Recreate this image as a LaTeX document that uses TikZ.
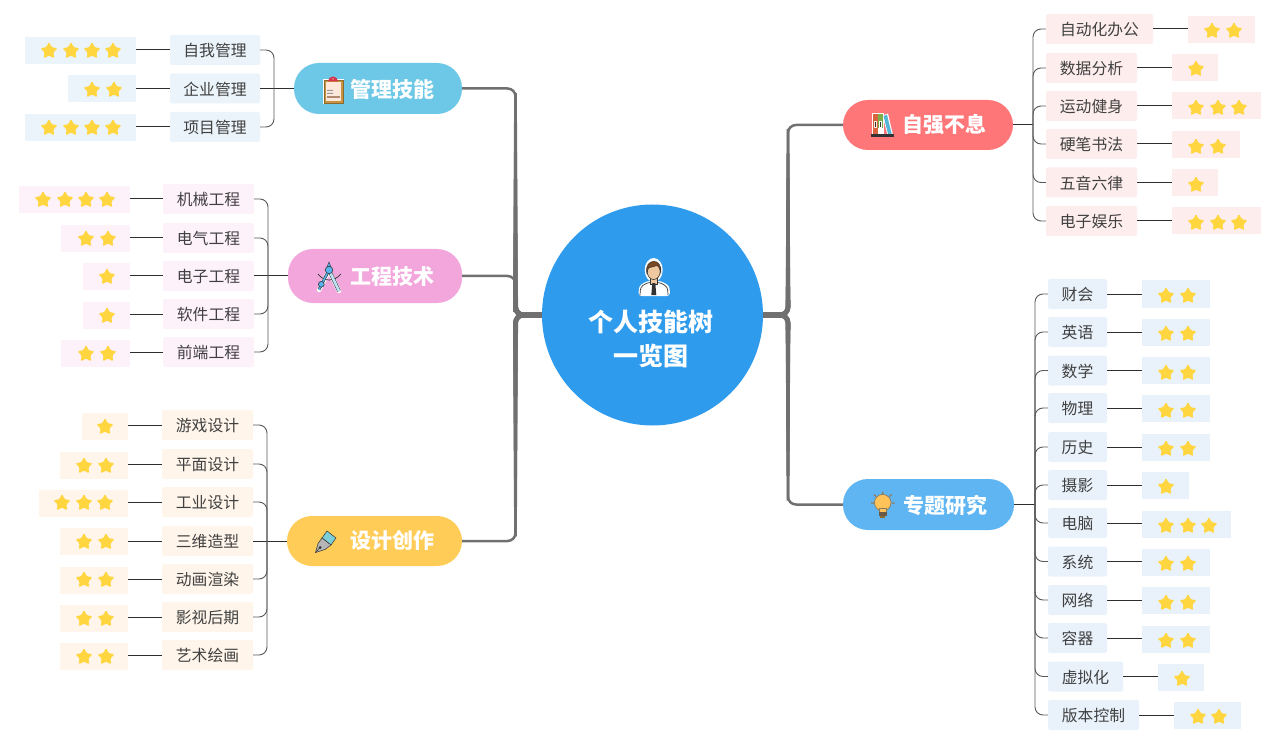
\documentclass[tikz,border=0pt]{standalone}
\usepackage{fontspec}
\setmainfont{Noto Sans CJK SC}
\usetikzlibrary{shapes.geometric,calc}
\definecolor{rootc}{HTML}{2F9BED}
\definecolor{trunkc}{HTML}{707070}
\definecolor{linec}{HTML}{2E2E2E}
\definecolor{textc}{HTML}{404040}
\definecolor{starc}{HTML}{FFD63F}
\definecolor{pa}{HTML}{6CC8E6}\definecolor{la}{HTML}{EBF4FA}
\definecolor{pb}{HTML}{F2A6DC}\definecolor{lb}{HTML}{FDF1FA}
\definecolor{pc}{HTML}{FFCC57}\definecolor{lc}{HTML}{FFF5EA}
\definecolor{pd}{HTML}{FF7678}\definecolor{ld}{HTML}{FEEDED}
\definecolor{pe}{HTML}{5FB5F2}\definecolor{le}{HTML}{E9F2FB}
\definecolor{idark}{HTML}{333333}
\definecolor{ibrown}{HTML}{C9923F}
\definecolor{ibrownd}{HTML}{8A6A30}
\definecolor{ipeach}{HTML}{FEE8DC}
\definecolor{ired}{HTML}{D6344A}
\definecolor{igrey}{HTML}{999999}
\definecolor{itan}{HTML}{B08A70}
\definecolor{iblue}{HTML}{5AB4F0}
\definecolor{ipale}{HTML}{BFE3F5}
\definecolor{iteal}{HTML}{7CCFD8}
\definecolor{isilver}{HTML}{B5B5B5}
\definecolor{iorange}{HTML}{D9653F}
\definecolor{igreen}{HTML}{7FAF4A}
\definecolor{isky}{HTML}{55B6D6}
\definecolor{iyellow}{HTML}{FFC35A}
\definecolor{ibase}{HTML}{6A5A48}
\definecolor{iray}{HTML}{8D7B5F}
\definecolor{iskin}{HTML}{F0C8A0}
\definecolor{ihair}{HTML}{7B4A22}
\tikzset{
  leafbox/.style={rounded corners=2pt,inner sep=0pt,minimum height=30pt,text=textc,text height=15pt,text depth=1.2pt,font=\fontsize{15.8}{18}\selectfont},
  ratebox/.style={inner sep=0pt,minimum height=27pt},
  starmark/.style={star,star points=5,star point ratio=1.95,minimum size=18pt,inner sep=0pt,fill=starc,rounded corners=1.2pt},
  pillbox/.style={rounded corners=25pt,inner sep=0pt},
  pilltext/.style={text=white,inner sep=0pt,font=\bfseries\fontsize{21}{24}\selectfont},
  trunkline/.style={draw=trunkc,rounded corners=8pt},
  thinline/.style={draw=linec,line width=1pt},
  branchline/.style={draw=linec!80!white,line width=.9pt,rounded corners=8pt}
}
\newcommand\pillnode[6]{% name x0 x1 yc height color
  \pgfmathsetmacro\cxx{(#2+#3)/2}\pgfmathsetmacro\wxx{#3-#2}
  \node[pillbox,fill=#6,minimum width=\wxx pt,minimum height=#5pt] (#1) at (\cxx,#4) {};}
\newcommand\leafnode[6]{% name x0 x1 yc text fill
  \pgfmathsetmacro\cxx{(#2+#3)/2}\pgfmathsetmacro\wxx{#3-#2}
  \node[leafbox,fill=#6,minimum width=\wxx pt] (#1) at (\cxx,#4) {#5};}
\newcommand\rate[7]{% name x0 x1 yc fill star-y star-list
  \pgfmathsetmacro\cxx{(#2+#3)/2}\pgfmathsetmacro\wxx{#3-#2}
  \node[ratebox,fill=#5,minimum width=\wxx pt] (#1r) at (\cxx,#4) {};
  \foreach \sx in {#7}{\node[starmark] (#1s\sx) at (\sx,#6) {};}}
\newcommand\linkL[1]{\draw[thinline] (#1.west) -- (#1.west -| #1r.east);}
\newcommand\linkR[1]{\draw[thinline] (#1.east) -- (#1.east -| #1r.west);}
\newcommand\brL[3]{\draw[branchline] (#3 |- #1.west) -- (#3 |- #2.east) -- (#2.east);}
\newcommand\brR[3]{\draw[branchline] (#3 |- #1.east) -- (#3 |- #2.west) -- (#2.west);}
\newcommand\trunk[3]{% root anchor, pill anchor, vertical x
  \draw[trunkline,line width=2.5pt] (#1) -- (#3 |- #1) -- (#3 |- #2) -- (#2);
  \foreach \ff/\ww in {.98/2.8,.85/3.05,.72/3.3,.6/3.55,.48/3.8,.36/4.1,.25/4.4,.15/4.7,.08/5}{
    \draw[trunkline,line width=\ww pt] (#1) -- (#3 |- #1) -- ($(#3 |- #1)!\ff!(#3 |- #2)$);}
  \draw[draw=trunkc,line width=6pt] (#1) -- ($(#1)!.75!(#3 |- #1)$);}
\begin{document}
\begin{tikzpicture}[x=1pt,y=-1pt]
\useasboundingbox (0,0) rectangle (1287,743);
\coordinate (vl) at (515.5,0);
\coordinate (vr) at (788,0);
\coordinate (ba) at (274,0);
\coordinate (bb) at (268,0);
\coordinate (bc) at (267,0);
\coordinate (bd) at (1033,0);
\coordinate (be) at (1035,0);
% root
\node[circle,fill=rootc,inner sep=0pt,minimum size=221pt] (root) at (652.5,315) {};
\node[text=white,inner sep=0pt,align=center,font=\bfseries\fontsize{25}{34}\selectfont] (roottext) at (650.5,339) {个人技能树\\一览图};
% pills
\pillnode{pilla}{294}{462}{88.5}{51}{pa}
\pillnode{pillb}{288}{462}{276}{54}{pb}
\pillnode{pillc}{287}{462}{541}{50}{pc}
\pillnode{pilld}{843}{1013}{125}{50}{pd}
\pillnode{pille}{843}{1014}{504.5}{51}{pe}
\node[pilltext] (ta) at (392,89) {管理技能};
\node[pilltext] (tb) at (392,277) {工程技术};
\node[pilltext] (tc) at (392,541) {设计创作};
\node[pilltext] (td) at (944,125) {自强不息};
\node[pilltext] (te) at (945,505) {专题研究};
% trunks
\trunk{root.west}{pilla.east}{vl}
\trunk{root.west}{pillb.east}{vl}
\trunk{root.west}{pillc.east}{vl}
\trunk{root.east}{pilld.west}{vr}
\trunk{root.east}{pille.west}{vr}
% group a
\leafnode{a1}{170}{260}{50}{自我管理}{la}
\leafnode{a2}{170}{260}{88.5}{企业管理}{la}
\leafnode{a3}{170}{260}{127}{项目管理}{la}
\rate{a1}{25}{136}{50.5}{la}{51}{49,71,92,113}
\rate{a2}{68}{136}{88.5}{la}{90}{92,114}
\rate{a3}{25}{136}{127.5}{la}{128}{49,71,92,113}
\foreach \n in {a1,a2,a3}{\linkL{\n}}
\draw[thinline] (pilla.west) -- (a2.east);
\brL{pilla}{a1}{ba}\brL{pilla}{a3}{ba}
% group b
\leafnode{b1}{163}{254}{199}{机械工程}{lb}
\leafnode{b2}{163}{254}{238}{电气工程}{lb}
\leafnode{b3}{163}{254}{276}{电子工程}{lb}
\leafnode{b4}{163}{254}{314}{软件工程}{lb}
\leafnode{b5}{163}{254}{352}{前端工程}{lb}
\rate{b1}{19}{130}{199.5}{lb}{200}{43,65,86,107}
\rate{b2}{61}{130}{238.5}{lb}{239}{86,108}
\rate{b3}{83}{130}{276.5}{lb}{277}{107}
\rate{b4}{83}{130}{315}{lb}{316}{107}
\rate{b5}{61}{130}{353}{lb}{354}{86,108}
\foreach \n in {b1,b2,b3,b4,b5}{\linkL{\n}}
\draw[thinline] (pillb.west) -- (b3.east);
\brL{pillb}{b1}{bb}\brL{pillb}{b2}{bb}\brL{pillb}{b4}{bb}\brL{pillb}{b5}{bb}
% group c
\leafnode{c1}{162}{253}{425}{游戏设计}{lc}
\leafnode{c2}{162}{253}{464}{平面设计}{lc}
\leafnode{c3}{162}{253}{502}{工业设计}{lc}
\leafnode{c4}{162}{253}{541}{三维造型}{lc}
\leafnode{c5}{162}{253}{579}{动画渲染}{lc}
\leafnode{c6}{162}{253}{617}{影视后期}{lc}
\leafnode{c7}{162}{253}{655}{艺术绘画}{lc}
\rate{c1}{82}{128}{426.5}{lc}{427}{105}
\rate{c2}{60}{128}{465}{lc}{466}{84,106}
\rate{c3}{39}{128}{503}{lc}{503}{62,84,105}
\rate{c4}{60}{128}{541.5}{lc}{542}{84,106}
\rate{c5}{60}{128}{580}{lc}{580}{84,106}
\rate{c6}{60}{128}{618}{lc}{619}{84,106}
\rate{c7}{60}{128}{656.5}{lc}{657}{84,106}
\foreach \n in {c1,c2,c3,c4,c5,c6,c7}{\linkL{\n}}
\draw[thinline] (pillc.west) -- (c4.east);
\brL{pillc}{c1}{bc}\brL{pillc}{c2}{bc}\brL{pillc}{c3}{bc}\brL{pillc}{c5}{bc}\brL{pillc}{c6}{bc}\brL{pillc}{c7}{bc}
% group d
\leafnode{d1}{1046}{1153}{29}{自动化办公}{ld}
\leafnode{d2}{1046}{1137}{68}{数据分析}{ld}
\leafnode{d3}{1046}{1137}{106}{运动健身}{ld}
\leafnode{d4}{1046}{1137}{144}{硬笔书法}{ld}
\leafnode{d5}{1046}{1137}{182.5}{五音六律}{ld}
\leafnode{d6}{1046}{1137}{221}{电子娱乐}{ld}
\rate{d1}{1188}{1255}{29.5}{ld}{31}{1212,1234}
\rate{d2}{1172}{1218}{67.5}{ld}{69}{1196}
\rate{d3}{1172}{1261}{106}{ld}{108}{1196,1218,1239}
\rate{d4}{1172}{1240}{144.5}{ld}{147}{1196,1218}
\rate{d5}{1172}{1218}{182.5}{ld}{185}{1196}
\rate{d6}{1172}{1261}{221}{ld}{223}{1196,1218,1239}
\foreach \n in {d1,d2,d3,d4,d5,d6}{\linkR{\n}}
\draw[thinline] (pilld.east) -- (bd |- pilld.east);
\foreach \n in {d1,d2,d3,d4,d5,d6}{\brR{pilld}{\n}{bd}}
% group e
\leafnode{e1}{1048}{1107}{294}{财会}{le}
\leafnode{e2}{1048}{1107}{332}{英语}{le}
\leafnode{e3}{1048}{1107}{370.5}{数学}{le}
\leafnode{e4}{1048}{1107}{408}{物理}{le}
\leafnode{e5}{1048}{1107}{447}{历史}{le}
\leafnode{e6}{1048}{1107}{485}{摄影}{le}
\leafnode{e7}{1048}{1107}{523}{电脑}{le}
\leafnode{e8}{1048}{1107}{561.5}{系统}{le}
\leafnode{e9}{1048}{1107}{600}{网络}{le}
\leafnode{e10}{1048}{1107}{638}{容器}{le}
\leafnode{e11}{1048}{1123}{676.5}{虚拟化}{le}
\leafnode{e12}{1048}{1139}{715}{版本控制}{le}
\rate{e1}{1142}{1210}{294}{le}{296}{1166,1188}
\rate{e2}{1142}{1210}{332.5}{le}{334}{1166,1188}
\rate{e3}{1142}{1210}{370.5}{le}{373}{1166,1188}
\rate{e4}{1142}{1210}{408.5}{le}{411}{1166,1188}
\rate{e5}{1142}{1210}{447}{le}{449}{1166,1188}
\rate{e6}{1142}{1189}{485.5}{le}{487}{1166}
\rate{e7}{1142}{1231}{524}{le}{526}{1166,1188,1209}
\rate{e8}{1142}{1210}{562}{le}{564}{1166,1188}
\rate{e9}{1142}{1210}{600.5}{le}{603}{1166,1188}
\rate{e10}{1142}{1210}{639}{le}{641}{1166,1188}
\rate{e11}{1158}{1204}{677}{le}{679}{1182}
\rate{e12}{1174}{1241}{715.5}{le}{717}{1198,1219}
\foreach \n in {e1,e2,e3,e4,e5,e6,e7,e8,e9,e10,e11,e12}{\linkR{\n}}
\draw[thinline] (pille.east) -- (be |- pille.east);
\foreach \n in {e1,e2,e3,e4,e5,e6,e7,e8,e9,e10,e11,e12}{\brR{pille}{\n}{be}}
% clipboard icon
\fill[white] (323,79) rectangle (344,104);
\draw[fill=ibrown,draw=ibrownd,line width=.6pt] (324,80) rectangle (343,103);
\fill[ipeach] (326,82) rectangle (341,101);
\fill[ired] (328,81.5) arc (180:360:5 and 5) -- cycle;
\fill[white] (333,79) circle (.7);
\fill[igrey] (327,90) rectangle (333,91) (327,93) rectangle (333,94);
\fill[itan] (327,96) rectangle (340,98);
% compass icon
\draw[white,line width=4.5pt,line cap=round] (329,271) -- (319,290) (329,271) -- (339,291);
\draw[line width=.7pt,idark] (318,274) .. controls (324,282) and (334,282) .. (341,274);
\draw[idark,line width=2.8pt] (329,270) -- (319,289.5);
\draw[idark,line width=3.6pt] (329,270) -- (339,291);
\draw[ipale,line width=2.6pt] (329,270) -- (339,291);
\draw[iblue,line width=1.6pt] (329,270) -- (319,289.5);
\filldraw[fill=iblue,draw=idark,line width=.4pt] (327,267) -- (329,262) -- (331,267) -- cycle;
\draw[idark,fill=iblue,line width=.6pt] (329,270) circle (3.8);
\draw[idark,fill=iblue,line width=.6pt] (321.3,284.3) circle (2.9);
% pen icon
\filldraw[fill=iteal,draw=idark,line width=.5pt] (327,531) -- (336,538) -- (331,545) -- (322,538) -- cycle;
\filldraw[fill=isilver,draw=idark,line width=.5pt] (322,538) -- (331,545) -- (325,549.5) -- (315.5,552.5) -- (318,543.5) -- cycle;
\fill[idark] (320,547.5) circle (1.5);
\draw[idark,line width=.5pt] (315.5,552.5) -- (320,547.5);
% books icon
\fill[white] (872.3,113.3) rectangle (884.3,135);
\fill[white] (882.5,115.5) -- (888,113.5) -- (893,135) -- (887.5,135) -- cycle;
\fill[iorange] (873.3,114.3) rectangle (877.7,135);
\fill[igreen] (877.9,114.3) rectangle (883.3,128);
\fill[white] (877.9,128) rectangle (883.3,135);
\fill[ipeach] (874.4,121.5) rectangle (876.6,128.5);
\fill[idark] (875,122.5) rectangle (876,127.5);
\fill[white] (879.4,121.5) rectangle (881.8,128.5);
\fill[idark] (880.1,122.5) rectangle (881.1,127.5);
\fill[isky] (883.5,116) -- (887,114.7) -- (891.8,134.5) -- (888.2,134.5) -- cycle;
\fill[idark] (870.7,134.3) rectangle (894.3,137.3);
% bulb icon
\draw[iray,line width=1.2pt] (882.7,491.5) -- (882.7,494.5) (871,503) -- (874,503) (891.5,503) -- (894.5,503) (874,494.5) -- (876,496.5) (891.5,494.5) -- (889.5,496.5);
\filldraw[draw=iray,line width=.7pt,fill=iyellow] (882.7,502.7) circle (8.3);
\filldraw[draw=iray,line width=.5pt,fill=iyellow] (879,508) rectangle (886.4,512);
\fill[ibase] (878.6,512) rectangle (886.8,516);
\fill[ibrownd] (880.3,516) rectangle (885,517.7);
% person icon
\fill[white,rounded corners=3pt] (638.5,296) -- (639,286) -- (647,281) -- (661,281) -- (669.5,286) -- (670,296) -- cycle;
\fill[white] (653.7,270) ellipse (9 and 12);
\filldraw[draw=idark,line width=.7pt,fill=white,rounded corners=3pt] (640,295) -- (640.5,287) -- (647.5,282.5) -- (660,282.5) -- (667.5,287) -- (668,295);
\filldraw[fill=iskin,draw=idark,line width=.5pt] (650,276) rectangle (657.5,284);
\filldraw[fill=iskin,draw=idark,line width=.6pt] (653.7,271.5) ellipse (6.5 and 8);
\filldraw[fill=ihair,draw=idark,line width=.5pt] (646.8,273) .. controls (644,258) and (663,257) .. (660.8,273) .. controls (660,268) and (659,266) .. (657,265.5) .. controls (654,267) and (650,267) .. (648.5,268) -- cycle;
\fill[idark] (652.3,283) -- (655.3,283) -- (656.3,295) -- (651.3,295) -- cycle;
\end{tikzpicture}
\end{document}
